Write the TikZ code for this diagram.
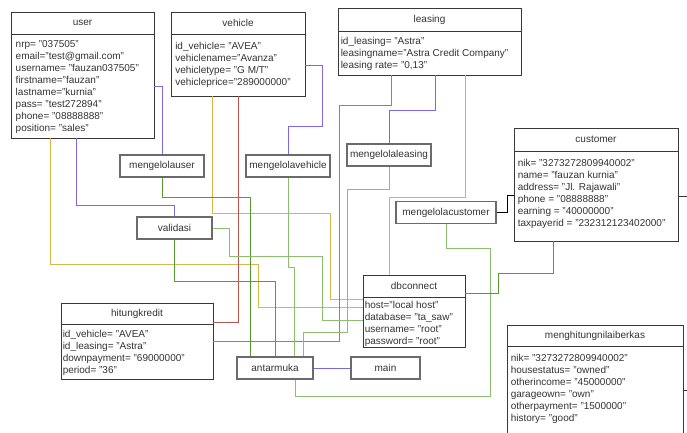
\documentclass[tikz,border=0pt]{standalone}
\usepackage{fontspec}
\setmainfont{Liberation Sans}
\usepackage{tikz}

\definecolor{boxgray}{HTML}{383838}
\definecolor{ctrlgray}{HTML}{6B6B6B}
\definecolor{textgray}{HTML}{333333}
\definecolor{linkviolet}{HTML}{7F66E6}
\definecolor{linkyellow}{HTML}{D4B84E}
\definecolor{linkred}{HTML}{B85450}
\definecolor{linkpink}{HTML}{D65F87}
\definecolor{linkgreen}{HTML}{8DBE6E}
\definecolor{linkdkgreen}{HTML}{5A9B31}

\begin{document}
\begin{tikzpicture}[x=1pt, y=-1pt, font=\fontsize{10}{12}\selectfont,
  classbox/.style={draw=boxgray, fill=white, line width=0.9pt, inner sep=0pt},
  headbox/.style={draw=boxgray, line width=0.9pt, minimum height=22pt, inner sep=0pt, text=textgray},
  fieldtext/.style={anchor=north west, align=left, inner sep=0pt, text=textgray},
  ctrlbox/.style={draw=ctrlgray, fill=white, line width=1.1pt, minimum height=22pt, inner sep=0pt, text=textgray},
  link/.style={line width=0.8pt}]
        \useasboundingbox (0,0) rectangle (687,433);                              %
        % class boxes
        \node [classbox, minimum width=143pt, minimum height=126pt] (user) at (82.5,75) {};          %user
        \node [headbox, minimum width=143pt, anchor=north] (userhead) at (user.north) {user};        %
        \node [fieldtext] (userfields) at ([xshift=5pt, yshift=-6.3pt]userhead.south west)
              {nrp= "037505"\\email="test@gmail.com"\\username= "fauzan037505"\\firstname="fauzan"\\
               lastname="kurnia"\\pass= "test272894"\\phone= "08888888"\\position= "sales"};
        \node [classbox, minimum width=134pt, minimum height=84pt] (vehicle) at (238,54) {};         %vehicle
        \node [headbox, minimum width=134pt, anchor=north] (vehiclehead) at (vehicle.north) {vehicle};
        \node [fieldtext] (vehiclefields) at ([xshift=4.5pt, yshift=-7.3pt]vehiclehead.south west)
              {id\_vehicle= "AVEA"\\vehiclename="Avanza"\\vehicletype= "G M/T"\\vehicleprice="289000000"};
        \node [classbox, minimum width=183pt, minimum height=67pt] (leasing) at (429.5,41.5) {};      %leasing
        \node [headbox, minimum width=183pt, minimum height=23pt, anchor=north] (leasinghead) at (leasing.north) {leasing};
        \node [fieldtext] (leasingfields) at ([xshift=3pt, yshift=-5.3pt]leasinghead.south west)
              {id\_leasing= "Astra"\\leasingname="Astra Credit Company"\\leasing rate= "0,13"};
        \node [classbox, minimum width=164pt, minimum height=113pt] (customer) at (596,184.5) {};     %customer
        \node [headbox, minimum width=164pt, minimum height=23pt, anchor=north] (customerhead) at (customer.north) {customer};
        \node [fieldtext] (customerfields) at ([xshift=4pt, yshift=-7.3pt]customerhead.south west)
              {nik= "3273272809940002"\\name= "fauzan kurnia"\\address= "Jl. Rajawali"\\phone = "08888888"\\
               earning = "40000000"\\taxpayerid = "232312123402000"};
        \node [classbox, minimum width=102pt, minimum height=72pt] (dbconnect) at (414,311) {};       %dbconnect
        \node [headbox, minimum width=102pt, anchor=north] (dbconnecthead) at (dbconnect.north) {dbconnect};
        \node [fieldtext] (dbconnectfields) at ([xshift=2pt, yshift=-3.3pt]dbconnecthead.south west)
              {host="local host"\\database= "ta\_saw"\\username= "root"\\password= "root"};
        \node [classbox, minimum width=152pt, minimum height=76pt] (hitungkredit) at (137,341) {};    %hitungkredit
        \node [headbox, minimum width=152pt, minimum height=21pt, anchor=north] (hitungkredithead) at (hitungkredit.north) {hitungkredit};
        \node [fieldtext] (hitungkreditfields) at ([xshift=2pt, yshift=-5.3pt]hitungkredithead.south west)
              {id\_vehicle= "AVEA"\\id\_leasing= "Astra"\\downpayment= "69000000"\\period= "36"};
        \node [classbox, minimum width=176pt, minimum height=120pt] (berkas) at (595,385) {};         %menghitungnilaiberkas
        \node [headbox, minimum width=176pt, minimum height=21pt, anchor=north] (berkashead) at (berkas.north) {menghitungnilaiberkas};
        \node [fieldtext] (berkasfields) at ([xshift=4pt, yshift=-7.3pt]berkashead.south west)
              {nik= "3273272809940002"\\housestatus= "owned"\\otherincome= "45000000"\\garageown= "own"\\
               otherpayment= "1500000"\\history= "good"};
        % control boxes
        \node [ctrlbox, minimum width=84pt]  (mengelolauser)     at (162,166)   {mengelolauser};     %
        \node [ctrlbox, minimum width=75pt]  (validasi)          at (174.5,228) {validasi};          %
        \node [ctrlbox, minimum width=84pt]  (mengelolavehicle)  at (288,166)   {mengelolavehicle};  %
        \node [ctrlbox, minimum width=84pt]  (mengelolaleasing)  at (389,155)   {mengelolaleasing};  %
        \node [ctrlbox, minimum width=100pt] (mengelolacustomer) at (446,212.5) {mengelolacustomer}; %
        \node [ctrlbox, minimum width=76pt]  (antarmuka)         at (275,368)   {antarmuka};         %
        \node [ctrlbox, minimum width=69pt]  (main)              at (385.5,368) {main};              %
        % connectors
        \coordinate (custout)   at (687,196);                                                       %
        \coordinate (berkasout) at (687,390);                                                       %
        \draw [link, linkviolet]  (user.east |- 0,86) -| (mengelolauser.north);                     %
        \draw [link, linkviolet]  (user.south -| 76,0) |- (validasi.north |- 0,205) -- (validasi.north);
        \draw [link, linkyellow]  (user.south -| 50,0) |- (258,264) |- (dbconnect.west |- 0,307);   %
        \draw [link, linkyellow]  (vehicle.south -| 212,0) |- (330,213) |- (dbconnect.west |- 0,299);
        \draw [link, linkyellow]  (leasing.south -| 465,0) |- (389,197) -- (dbconnect.north -| 389,0);
        \draw [link, linkred]     (vehicle.south -| 238,0) |- (hitungkredit.east |- 0,322);         %
        \draw [link, linkpink]    (leasing.south -| 391,0) |- (339,105) |- (hitungkredit.east |- 0,341);
        \draw [link, linkviolet]  (leasing.south -| 435,0) |- (389,110) -- (mengelolaleasing.north);
        \draw [link, linkviolet]  (vehicle.east |- 0,65) -| (322,126) -| (mengelolavehicle.north);  %
        \draw [link, linkdkgreen] (mengelolauser.south) |- (250,197) -- (antarmuka.north -| 250,0); %
        \draw [link, linkdkgreen] (validasi.south) |- (antarmuka.north |- 0,281) -- (antarmuka.north);
        \draw [link, linkgreen]   (validasi.east) -| (229,256) -| (322,320) -- (dbconnect.west |- 0,320);
        \draw [link, linkgreen]   (mengelolavehicle.south) |- (294,267) -- (antarmuka.north -| 294,0);
        \draw [link, linkgreen]   (mengelolaleasing.south) |- (347,189) |- (303,332) -- (antarmuka.north -| 303,0);
        \draw [link, linkgreen]   (mengelolacustomer.south) |- (490,248) |- (295,396) -- (antarmuka.south -| 295,0);
        \draw [link, linkdkgreen] (customer.south -| 553,0) |- (498,273) |- (dbconnect.east |- 0,293);
        \draw [link, black]       (mengelolacustomer.east) -| (507,195) -- (customer.west |- 0,195);%
        \draw [link, linkviolet]  (antarmuka.east) -- (main.west);                                  %
        \draw [link, boxgray]     (customer.east |- custout) -- (custout);                          %
        \draw [link, boxgray]     (berkas.east |- berkasout) -- (berkasout);                        %
\end{tikzpicture}
\end{document}
